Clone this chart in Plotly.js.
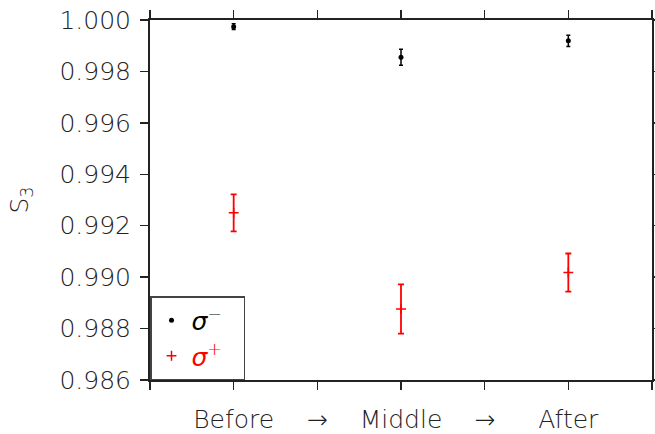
<!DOCTYPE html>
<html>
<head>
<meta charset="utf-8">
<script src="https://cdn.plot.ly/plotly-3.0.1.min.js"></script>
<style>html,body{margin:0;padding:0;background:#fff;}#chart{width:655px;height:434px;}</style>
</head>
<body>
<div id="chart"></div>
<script>
// Stages and tick labels
var stages = ["Before", "Middle", "After"];
var tickLabels = ["", "Before", "\u2192", "Middle", "\u2192", "After", ""];

// sigma- (black)
var sigmaMinus = [0.99974, 0.99855, 0.99919];
var sigmaMinusErr = [0.00011, 0.00031, 0.00022];

// sigma+ (red)
var sigmaPlus = [0.99250, 0.98876, 0.99018];
var sigmaPlusErr = [0.00072, 0.00096, 0.00074];

var xs = stages.map(function (s, i) { return 2 * i + 1; });
var tickVals = tickLabels.map(function (t, i) { return i; });

var FONT = "DejaVu Sans";
var PAD = "\u00a0\u00a0";

var traces = [
  {
    x: xs, y: sigmaMinus, type: "scatter", mode: "markers",
    name: "<i>\u03c3</i><sup>\u2212</sup>" + PAD,
    marker: { color: "black", size: 5, symbol: "circle" },
    error_y: { type: "data", array: sigmaMinusErr, visible: true, color: "black", thickness: 1.5, width: 2 }
  },
  {
    x: xs, y: sigmaPlus, type: "scatter", mode: "markers",
    name: "<span style=\"color:red\"><i>\u03c3</i><sup>+</sup></span>" + PAD,
    marker: { color: "red", size: 7, symbol: "cross-thin", line: { color: "red", width: 1.5 } },
    error_y: { type: "data", array: sigmaPlusErr, visible: true, color: "red", thickness: 1.8, width: 3 }
  }
];

var layout = {
  width: 655, height: 434,
  margin: { l: 150, r: 3, t: 20, b: 54 },
  paper_bgcolor: "white", plot_bgcolor: "white",
  font: { family: FONT, size: 25, color: "#222", weight: 200 },
  showlegend: true,
  legend: {
    x: 0, y: 0, xanchor: "left", yanchor: "bottom",
    bgcolor: "white", bordercolor: "#444", borderwidth: 1.5,
    font: { family: FONT, size: 25, color: "black" },
    tracegroupgap: 0
  },
  xaxis: {
    range: [0, 6], tickmode: "array", tickvals: tickVals, ticktext: tickLabels,
    showgrid: false, zeroline: false,
    showline: true, linecolor: "#222", linewidth: 2, mirror: "ticks",
    ticks: "outside", ticklen: 8, tickwidth: 1.5, tickcolor: "#222",
    ticklabelstandoff: 8,
    tickfont: { family: FONT, size: 25, color: "#222", weight: 200 }
  },
  yaxis: {
    range: [0.986, 1.000], tickmode: "array",
    tickvals: [0.986, 0.988, 0.990, 0.992, 0.994, 0.996, 0.998, 1.000],
    ticktext: ["0.986", "0.988", "0.990", "0.992", "0.994", "0.996", "0.998", "1.000"],
    showgrid: false, zeroline: false,
    showline: true, linecolor: "#222", linewidth: 2, mirror: "ticks",
    ticks: "outside", ticklen: 8, tickwidth: 1.5, tickcolor: "#222",
    ticklabelstandoff: 4,
    tickfont: { family: FONT, size: 25, color: "#222", weight: 200 },
    title: { text: "S<sub>3</sub>", font: { family: FONT, size: 25, color: "#222", weight: 200 }, standoff: 24 }
  }
};

Plotly.newPlot("chart", traces, layout, { displayModeBar: false, staticPlot: true });
</script>
</body>
</html>
